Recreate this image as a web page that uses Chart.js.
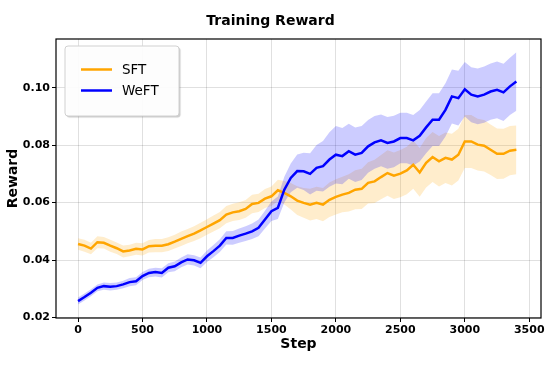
<!DOCTYPE html>
<html>
<head>
<meta charset="utf-8">
<script src="https://cdn.jsdelivr.net/npm/chart.js@4"></script>
<style>
  html, body { margin: 0; padding: 0; background: #fff; }
  #wrap { width: 548px; height: 366px; }
</style>
</head>
<body>
<div id="wrap"><canvas id="myChart" width="548" height="366"></canvas></div>
<script>
// values
const steps = [0,50,100,150,200,250,300,350,400,450,500,550,600,650,700,750,800,850,900,950,
  1000,1050,1100,1150,1200,1250,1300,1350,1400,1450,1500,1550,1600,1650,1700,1750,1800,1850,1900,1950,
  2000,2050,2100,2150,2200,2250,2300,2350,2400,2450,2500,2550,2600,2650,2700,2750,2800,2850,2900,2950,
  3000,3050,3100,3150,3200,3250,3300,3350,3400];

const sftMean = [0.0456,0.0450,0.0440,0.0462,0.0460,0.0450,0.0441,0.0430,0.0433,0.0439,
  0.0437,0.0448,0.0450,0.0450,0.0455,0.0464,0.0474,0.0483,0.0492,0.0503,
  0.0515,0.0527,0.0539,0.0558,0.0566,0.0570,0.0578,0.0595,0.0599,0.0614,
  0.0622,0.0643,0.0634,0.0622,0.0607,0.0599,0.0593,0.0599,0.0593,0.0610,
  0.0620,0.0628,0.0634,0.0645,0.0648,0.0669,0.0674,0.0689,0.0703,0.0694,
  0.0701,0.0712,0.0732,0.0705,0.0739,0.0759,0.0744,0.0756,0.0750,0.0767,
  0.0813,0.0813,0.0802,0.0798,0.0784,0.0770,0.0770,0.0781,0.0784];
const sftStd = [0.0020,0.0021,0.0020,0.0021,0.0020,0.0021,0.0020,0.0021,0.0020,0.0021,0.0021,
  0.0022,0.0023,0.0023,0.0024,0.0024,0.0025,0.0025,0.0026,0.0027,0.0027,
  0.0028,0.0028,0.0030,0.0030,0.0031,0.0031,0.0032,0.0032,0.0033,0.0034,
  0.0037,0.0041,0.0046,0.0050,
  0.0052,0.0055,0.0056,0.0058,0.0060,0.0061,
  0.0062,0.0065,0.0068,0.0070,0.0072,0.0075,0.0077,0.0079,0.0081,0.0082,
  0.0083,0.0084,0.0085,0.0086,0.0087,0.0088,0.0088,0.0090,0.0090,0.0092,
  0.0092,0.0090,0.0090,0.0088,0.0088,0.0087,0.0086,0.0085];

const weftMean = [0.0257,0.0271,0.0286,0.0303,0.0309,0.0307,0.0309,0.0315,0.0323,0.0326,
  0.0344,0.0355,0.0358,0.0355,0.0373,0.0378,0.0392,0.0402,0.0399,0.0390,
  0.0413,0.0431,0.0450,0.0477,0.0477,0.0485,0.0492,0.0500,0.0512,0.0541,
  0.0570,0.0582,0.0645,0.0686,0.0710,0.0709,0.0700,0.0721,0.0727,0.0750,
  0.0767,0.0762,0.0779,0.0767,0.0773,0.0796,0.0810,0.0817,0.0808,0.0813,
  0.0825,0.0825,0.0817,0.0833,0.0862,0.0889,0.0889,0.0923,0.0970,0.0964,
  0.0995,0.0976,0.0970,0.0976,0.0987,0.0993,0.0984,0.1005,0.1022];
const weftStd = [0.0012,0.0012,0.0012,0.0012,0.0013,0.0013,0.0013,0.0013,0.0014,0.0014,0.0014,
  0.0015,0.0015,0.0016,0.0016,0.0017,0.0017,0.0018,0.0018,0.0019,0.0020,
  0.0021,0.0022,0.0023,0.0024,0.0025,0.0026,0.0027,0.0029,0.0031,0.0034,
  0.0039,0.0045,0.0050,0.0058,
  0.0065,0.0072,0.0080,0.0088,0.0095,0.0100,
  0.0098,0.0096,0.0095,0.0094,0.0092,0.0092,0.0090,0.0090,0.0090,0.0088,
  0.0088,0.0088,0.0090,0.0090,0.0092,0.0092,0.0093,0.0094,0.0095,0.0095,
  0.0096,0.0097,0.0098,0.0098,0.0099,0.0100,0.0100,0.0102];

const seriesNames = ['SFT','WeFT'];
const xTicks = [0,500,1000,1500,2000,2500,3000,3500];
const yTicks = [0.02,0.04,0.06,0.08,0.10];

const FONT = "'DejaVu Sans', sans-serif";
const ORANGE = '#FFA500';
const BLUE = '#0000FF';

const pts = (arr) => steps.map((s,i) => ({x:s, y:arr[i]}));
const band = (mean, sd, sign) => steps.map((s,i) => ({x:s, y:mean[i] + sign*sd[i]}));

const bandBase = {pointRadius:0, borderWidth:0, tension:0};

const ctx = document.getElementById('myChart').getContext('2d');

// frame + legend drawn by hand (matplotlib style)
const framePlugin = {
  id:'frame',
  afterDraw(chart){
    const c = chart.ctx, a = chart.chartArea;
    c.save();
    c.strokeStyle = '#000';
    c.lineWidth = 1.2;
    c.strokeRect(a.left, a.top, a.right-a.left, a.bottom-a.top);

    // legend box
    const bx = 65, by = 46, bw = 114, bh = 70;
    c.shadowColor = 'rgba(0,0,0,0.22)';
    c.shadowOffsetX = 1.5; c.shadowOffsetY = 1.5; c.shadowBlur = 1;
    c.beginPath();
    c.roundRect(bx, by, bw, bh, 3);
    c.fillStyle = 'rgba(255,255,255,0.95)';
    c.fill();
    c.shadowColor = 'transparent';
    c.strokeStyle = '#d0d0d0';
    c.lineWidth = 1;
    c.stroke();

    const cols = [ORANGE, BLUE];
    const ys = [69.5, 90.5];
    c.font = "13.5px " + FONT;
    c.textBaseline = 'middle';
    seriesNames.forEach((n,i) => {
      c.strokeStyle = cols[i];
      c.lineWidth = 2.5;
      c.beginPath();
      c.moveTo(81, ys[i]); c.lineTo(112, ys[i]);
      c.stroke();
      c.fillStyle = '#000';
      c.fillText(n, 122, ys[i]+0.5);
    });
    c.restore();
  }
};

const data = {
  datasets:[
    {...bandBase, label:'sftLow', data:band(sftMean,sftStd,-1), fill:false, order:3},
    {...bandBase, label:'sftHigh', data:band(sftMean,sftStd,1), fill:'-1', backgroundColor:'rgba(255,165,0,0.2)', order:3},
    {...bandBase, label:'weftLow', data:band(weftMean,weftStd,-1), fill:false, order:2},
    {...bandBase, label:'weftHigh', data:band(weftMean,weftStd,1), fill:'-1', backgroundColor:'rgba(0,0,255,0.2)', order:2},
    {label:seriesNames[0], data:pts(sftMean), borderColor:ORANGE, borderWidth:2.5, pointRadius:0, fill:false, tension:0, order:1},
    {label:seriesNames[1], data:pts(weftMean), borderColor:BLUE, borderWidth:2.5, pointRadius:0, fill:false, tension:0, order:0}
  ]
};

const config = {
  type:'line',
  data:data,
  plugins:[framePlugin],
  options:{
    responsive:false,
    animation:false,
    layout:{padding:{left:0, right:7, top:0, bottom:0}},
    plugins:{
      legend:{display:false},
      tooltip:{enabled:false},
      title:{
        display:true,
        text:'Training Reward',
        color:'#000',
        font:{family:FONT, size:14, weight:'bold', lineHeight:1.2},
        padding:{top:13, bottom:9.2}
      }
    },
    scales:{
      x:{
        type:'linear',
        min:-171, max:3591,
        afterBuildTicks: (s) => { s.ticks = xTicks.map(v => ({value:v})); },
        afterFit: (s) => { s.height = 48; },
        grid:{color:'rgba(0,0,0,0.12)', tickColor:'#000', tickLength:4, lineWidth:1},
        border:{display:false},
        ticks:{color:'#000', padding:2, maxRotation:0, font:{family:FONT, size:11, weight:'bold'},
          callback:(v) => String(v)},
        title:{display:true, text:'Step', color:'#000',
          font:{family:FONT, size:14, weight:'bold', lineHeight:1.2}, padding:{top:0, bottom:13}}
      },
      y:{
        min:0.0198, max:0.1170,
        afterBuildTicks: (s) => { s.ticks = yTicks.map(v => ({value:v})); },
        afterFit: (s) => { s.width = 56; },
        grid:{color:'rgba(0,0,0,0.12)', tickColor:'#000', tickLength:4, lineWidth:1},
        border:{display:false},
        ticks:{color:'#000', padding:2, font:{family:FONT, size:11, weight:'bold'},
          callback:(v) => v.toFixed(2)},
        title:{display:true, text:'Reward', color:'#000',
          font:{family:FONT, size:14, weight:'bold', lineHeight:1.2}, padding:{top:5, bottom:0}}
      }
    }
  }
};

const mychart = new Chart(ctx, config);
</script>
</body>
</html>
